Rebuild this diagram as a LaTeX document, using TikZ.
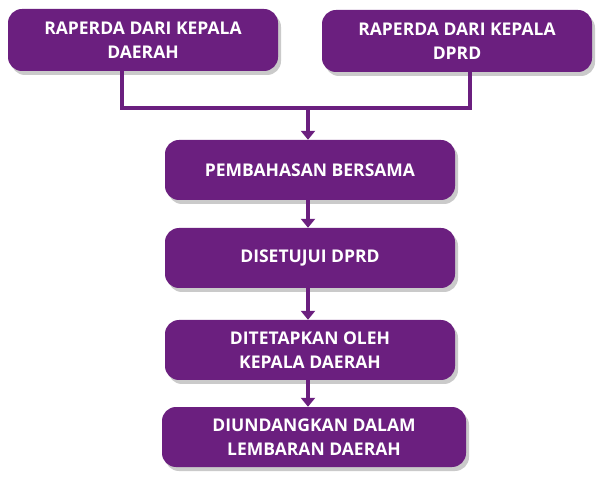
\documentclass[tikz,border=0pt]{standalone}
\usepackage{fontspec}
\setmainfont{Open Sans}
\usetikzlibrary{shadows,arrows.meta}
\definecolor{pur}{HTML}{6B1F7F}
\begin{document}
\begin{tikzpicture}[x=1pt,y=-1pt,
  box/.style={fill=pur,rounded corners=14pt,draw=none,align=center,text=white,font=\bfseries\fontsize{17.5}{24}\selectfont,
    drop shadow={shadow xshift=3pt,shadow yshift=-4pt,fill=black!35,opacity=0.6}},
  ln/.style={draw=pur,line width=4pt},
  arr/.style={ln,-{Triangle[length=9pt,width=14pt]}}]
\useasboundingbox (0,0) rectangle (600,478);
\node[box,minimum width=270pt,minimum height=62pt] (a) at (143,40) {RAPERDA DARI KEPALA\\DAERAH};
\node[box,minimum width=270pt,minimum height=62pt] (b) at (457,41) {RAPERDA DARI KEPALA\\DPRD};
\node[box,minimum width=290pt,minimum height=60pt] (c) at (310,170) {PEMBAHASAN BERSAMA};
\node[box,minimum width=290pt,minimum height=60pt] (d) at (310,258) {DISETUJUI DPRD};
\node[box,minimum width=290pt,minimum height=60pt] (e) at (310,350) {DITETAPKAN OLEH\\KEPALA DAERAH};
\node[box,minimum width=304pt,minimum height=60pt] (f) at (314,437) {DIUNDANGKAN DALAM\\LEMBARAN DAERAH};
\coordinate (j) at (308,108);
\draw[ln] (122,71) -- (122,108) -- (470,108) -- (470,72);
\draw[arr] (j) -- (j|-c.north);
\draw[arr] (c.south-|j) -- (d.north-|j);
\draw[arr] (d.south-|j) -- (e.north-|j);
\draw[arr] (e.south-|j) -- (f.north-|j);
\end{tikzpicture}
\end{document}
